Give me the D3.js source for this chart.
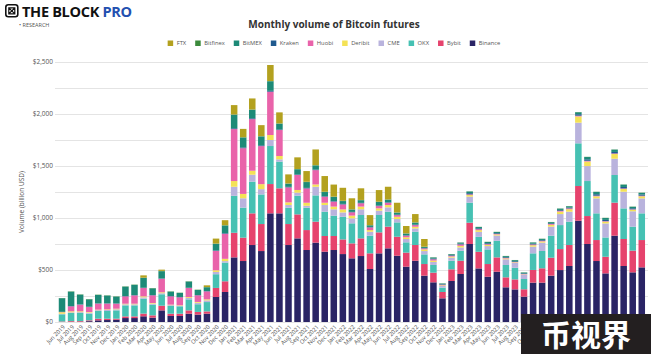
<!DOCTYPE html>
<html>
<head>
<meta charset="utf-8">
<script src="https://cdn.jsdelivr.net/npm/d3@7"></script>
<style>
  body { margin: 0; background: #fff; }
  svg { display: block; font-family: "Open Sans", sans-serif; }
</style>
</head>
<body>
<div id="chart"></div>
<script>
// month labels, Jun 2019 - Oct 2024
const months = [
  "Jun 2019","Jul 2019","Aug 2019","Sep 2019","Oct 2019","Nov 2019","Dec 2019",
  "Jan 2020","Feb 2020","Mar 2020","Apr 2020","May 2020","Jun 2020","Jul 2020","Aug 2020","Sep 2020","Oct 2020","Nov 2020","Dec 2020",
  "Jan 2021","Feb 2021","Mar 2021","Apr 2021","May 2021","Jun 2021","Jul 2021","Aug 2021","Sep 2021","Oct 2021","Nov 2021","Dec 2021",
  "Jan 2022","Feb 2022","Mar 2022","Apr 2022","May 2022","Jun 2022","Jul 2022","Aug 2022","Sep 2022","Oct 2022","Nov 2022","Dec 2022",
  "Jan 2023","Feb 2023","Mar 2023","Apr 2023","May 2023","Jun 2023","Jul 2023","Aug 2023","Sep 2023","Oct 2023","Nov 2023","Dec 2023",
  "Jan 2024","Feb 2024","Mar 2024","Apr 2024","May 2024","Jun 2024","Jul 2024","Aug 2024","Sep 2024","Oct 2024"
];

// volumes, billion USD
const binance = [0,0,0,8,16,19,22,38,38,55,42,112,58,58,80,71,80,241,289,
  622,587,741,683,1046,1046,741,805,693,764,677,693,
  654,613,635,510,661,709,638,533,590,446,382,228,
  395,462,751,516,436,484,334,314,244,379,379,446,
  500,539,975,751,587,468,831,539,478,526];
const bybit = [5,8,8,8,16,13,10,16,16,26,22,45,22,22,32,26,22,87,103,
  237,225,305,260,282,241,202,231,192,202,151,135,
  141,144,170,151,202,209,183,135,151,112,93,61,
  112,128,205,160,122,138,96,96,71,122,138,173,
  202,202,334,269,202,160,318,260,209,263];
const okx = [69,79,79,64,74,74,80,106,106,144,103,110,74,71,106,74,90,132,180,
  356,289,305,285,366,257,157,180,215,253,234,196,
  218,193,225,170,167,144,138,99,128,93,74,42,
  83,96,193,144,141,160,119,112,99,160,167,212,
  231,225,411,337,257,186,266,295,231,257];
const cme = [5,6,8,10,8,10,10,10,10,12,10,10,8,5,14,14,16,22,14,
  87,90,67,51,58,22,26,29,19,83,64,61,
  42,48,55,38,42,42,32,32,32,32,29,16,
  30,32,58,48,32,51,55,48,42,64,80,87,
  106,96,199,144,144,135,157,160,148,144];
const deribit = [15,10,8,6,5,6,6,6,6,10,6,9,5,5,8,8,10,16,22,
  55,42,38,48,48,32,26,26,29,22,22,26,
  29,26,26,16,22,22,22,16,16,16,13,6,
  10,15,15,16,12,10,8,5,3,14,12,18,
  24,24,60,44,20,17,45,26,15,20];
const huobi = [2,48,64,48,58,55,48,71,80,80,74,130,80,77,87,64,77,186,241,
  500,440,497,366,417,250,144,144,138,138,58,48,
  48,32,32,26,22,22,16,16,16,10,13,6,
  8,14,7,10,7,6,5,3,3,8,7,8,
  8,8,7,7,6,5,6,6,4,6];
const kraken = [2,3,3,3,3,3,3,3,3,3,3,3,3,3,3,3,3,5,6,
  8,8,8,8,8,6,5,5,5,5,5,5,
  5,4,4,4,5,5,4,4,4,4,7,5,
  6,7,11,8,8,7,7,7,6,7,7,7,
  8,8,14,14,14,12,14,14,10,11];
const bitmex = [131,138,93,71,80,74,65,90,98,94,64,70,42,38,59,48,36,63,74,
  130,95,82,85,92,55,30,50,56,40,40,40,
  27,22,25,15,34,24,19,16,20,10,10,6,
  8,10,16,12,12,10,10,10,8,11,10,10,
  12,12,19,22,22,18,22,22,14,16];
const bitfinex = [2,3,3,3,3,3,3,3,3,3,3,3,3,3,3,3,3,3,3,
  3,3,3,3,3,3,3,3,3,3,3,3,
  3,3,3,3,3,3,3,2,2,2,2,2,
  2,2,2,2,2,2,2,2,2,2,2,2,
  2,2,2,2,2,2,2,2,2,2];
const ftx = [0,0,0,0,0,0,0,0,0,22,0,12,0,0,0,0,16,48,48,
  90,80,106,106,154,106,87,112,103,151,151,116,
  125,106,112,96,112,122,93,71,80,74,0,0,
  0,0,0,0,0,0,0,0,0,0,0,0,
  0,0,0,0,0,0,0,0,0,0];

// stack order bottom -> top
const keys = ["Binance","Bybit","OKX","CME","Deribit","Huobi","Kraken","BitMEX","Bitfinex","FTX"];
const seriesByKey = {
  Binance: binance, Bybit: bybit, OKX: okx, CME: cme, Deribit: deribit,
  Huobi: huobi, Kraken: kraken, BitMEX: bitmex, Bitfinex: bitfinex, FTX: ftx
};
const colors = {
  Binance: "#2a2465", Bybit: "#e6436d", OKX: "#46c1b3", CME: "#b9b3dd", Deribit: "#f4e256",
  Huobi: "#e963aa", Kraken: "#1f5a8e", BitMEX: "#1d8a77", Bitfinex: "#3b8a3b", FTX: "#b3a11f"
};
const legendOrder = ["FTX","Bitfinex","BitMEX","Kraken","Huobi","Deribit","CME","OKX","Bybit","Binance"];

const width = 651, height = 354;

const svg = d3.select("#chart").append("svg")
    .attr("width", width)
    .attr("height", height);

const rows = months.map((m, i) => {
    const r = { month: m };
    keys.forEach(k => r[k] = seriesByKey[k][i]);
    return r;
});

const stacked = d3.stack().keys(keys)(rows);

const x = d3.scaleBand()
    .domain(months)
    .range([57.5, 646.3])
    .paddingInner(0.28)
    .paddingOuter(0.14);

const y = d3.scaleLinear()
    .domain([0, 2500])
    .range([322, 62.3]);

// gridlines
svg.append("g")
    .selectAll("line")
    .data(d3.range(0, 2501, 250))
    .enter()
    .append("line")
    .attr("x1", 55)
    .attr("x2", 648)
    .attr("y1", d => Math.round(y(d)) + 0.5)
    .attr("y2", d => Math.round(y(d)) + 0.5)
    .attr("stroke", "#e4e4e4")
    .attr("stroke-width", 1);

// y tick labels
svg.append("g")
    .selectAll("text")
    .data(d3.range(0, 2501, 500))
    .enter()
    .append("text")
    .attr("x", 53)
    .attr("y", d => y(d))
    .attr("dy", "0.32em")
    .attr("text-anchor", "end")
    .style("font-size", "6.5px")
    .style("fill", "#555")
    .text(d => "$" + d3.format(",")(d));

svg.append("text")
    .attr("transform", "translate(24,202) rotate(-90)")
    .attr("text-anchor", "middle")
    .style("font-size", "6.5px")
    .style("fill", "#555")
    .text("Volume (billion USD)");

// bars
svg.append("g")
    .selectAll("g")
    .data(stacked)
    .enter()
    .append("g")
    .attr("fill", d => colors[d.key])
    .selectAll("rect")
    .data(d => d)
    .enter()
    .append("rect")
    .attr("x", d => x(d.data.month))
    .attr("width", x.bandwidth())
    .attr("y", d => y(d[1]))
    .attr("height", d => Math.max(0, y(d[0]) - y(d[1])));

// x labels
svg.append("g")
    .selectAll("text")
    .data(months)
    .enter()
    .append("text")
    .attr("transform", d => "translate(" + (x(d) + x.bandwidth() / 2 + 2) + ",326) rotate(-45)")
    .attr("text-anchor", "end")
    .attr("dy", "0.35em")
    .style("font-size", "5.8px")
    .style("fill", "#555")
    .text(d => d);

// title
svg.append("text")
    .attr("x", 334)
    .attr("y", 27.5)
    .attr("text-anchor", "middle")
    .style("font-size", "10px")
    .style("font-weight", "bold")
    .style("fill", "#333")
    .text("Monthly volume of Bitcoin futures");

// legend
const legend = svg.append("g");
let lx = 0;
legendOrder.forEach(k => {
    const item = legend.append("g").attr("transform", "translate(" + lx + ",0)");
    item.append("rect")
        .attr("x", 0).attr("y", -3)
        .attr("width", 5.5).attr("height", 5.5)
        .attr("fill", colors[k]);
    const t = item.append("text")
        .attr("x", 9).attr("y", 0)
        .attr("dy", "0.32em")
        .style("font-size", "5.8px")
        .style("fill", "#555")
        .text(k);
    lx += 9 + t.node().getComputedTextLength() + 9;
});
legend.attr("transform", "translate(" + (334 - (lx - 9) / 2) + ",43.5)");

// logo
const logo = svg.append("g").attr("transform", "translate(5,4)");
logo.append("rect")
    .attr("x", 0.8).attr("y", 0.8).attr("width", 12).attr("height", 12)
    .attr("rx", 2.5).attr("fill", "none").attr("stroke", "#111").attr("stroke-width", 1.6);
logo.append("path")
    .attr("d", "M3.8,3.8 h6 v6 h-6 z M3.8,3.8 l6,6 M9.8,3.8 l-6,6")
    .attr("fill", "none").attr("stroke", "#111").attr("stroke-width", 1.2);
const brand = svg.append("text")
    .attr("x", 22).attr("y", 16.5)
    .style("font-size", "14.5px")
    .style("font-weight", "bold")
    .style("letter-spacing", "-0.3px")
    .style("fill", "#111");
brand.append("tspan").text("THE BLOCK ");
brand.append("tspan").style("fill", "#2350b0").text("PRO");
svg.append("text")
    .attr("x", 19).attr("y", 27)
    .style("font-size", "5.5px")
    .style("fill", "#555")
    .text("• RESEARCH");

// watermark box
svg.append("rect")
    .attr("x", 521).attr("y", 314)
    .attr("width", 130).attr("height", 40)
    .attr("fill", "#231f20");
svg.append("text")
    .attr("x", 586).attr("y", 346)
    .attr("text-anchor", "middle")
    .style("font-family", "'Noto Sans CJK SC', sans-serif")
    .style("font-size", "30px")
    .style("font-weight", "bold")
    .style("fill", "#fff")
    .text("币视界");
</script>
</body>
</html>
